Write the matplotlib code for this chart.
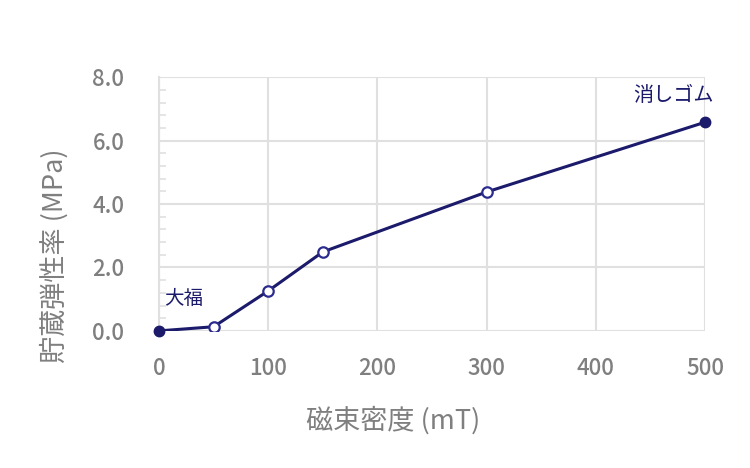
import matplotlib
matplotlib.use("Agg")
import matplotlib.pyplot as plt
from matplotlib.ticker import MultipleLocator

plt.rcParams["font.family"] = ["Noto Sans CJK JP", "DejaVu Sans"]

# data
field_mT = [0, 50, 100, 150, 300, 500]
modulus_MPa = [0.0, 0.13, 1.26, 2.49, 4.38, 6.58]
hollow = [False, True, True, True, True, False]
labels = {0: "大福", 5: "消しゴム"}

x_ticks = [0, 100, 200, 300, 400, 500]
y_ticks = [0.0, 2.0, 4.0, 6.0, 8.0]

navy = "#1b1a6b"
edge_blue = "#2c2c8e"
grey = "#7f7f7f"
grid_c = "#e0e0e0"

fig = plt.figure(figsize=(7.5, 4.68), dpi=100)
ax = fig.add_axes([0.212, 0.293, 0.728, 0.542])

ax.plot(field_mT, modulus_MPa, color=navy, lw=2.2, zorder=3)
for x, y, h in zip(field_mT, modulus_MPa, hollow):
    if h:
        ax.plot(x, y, "o", ms=7.5, mfc="white", mec=edge_blue, mew=1.6, zorder=4)
    else:
        ax.plot(x, y, "o", ms=7.5, mfc=navy, mec=navy, zorder=4, clip_on=False)

ax.annotate(labels[0], (field_mT[0], modulus_MPa[0]), xytext=(4, 16),
            textcoords="offset points", fontsize=14, color=navy, va="bottom")
ax.annotate(labels[5], (field_mT[5], modulus_MPa[5]), xytext=(6, 12),
            textcoords="offset points", fontsize=14.5, color=navy,
            ha="right", va="bottom")

ax.set_xlim(0, 500)
ax.set_ylim(0, 8)
ax.set_xticks(x_ticks)
ax.set_yticks(y_ticks)
ax.set_yticklabels([f"{v:.1f}" for v in y_ticks])
ax.yaxis.set_minor_locator(MultipleLocator(0.4))

ax.grid(True, which="major", color=grid_c, lw=1.5)
ax.set_axisbelow(True)
for s in ax.spines.values():
    s.set_visible(False)
ax.spines["left"].set_visible(True)
ax.spines["left"].set_color(grid_c)
ax.spines["left"].set_linewidth(1.5)

ax.tick_params(axis="both", which="major", length=0, labelsize=16,
               labelcolor=grey)
ax.tick_params(axis="x", which="major", pad=19)
ax.tick_params(axis="y", which="major", pad=25)
ax.tick_params(axis="y", which="minor", direction="in", length=5,
               color=grid_c, width=1.2)
for t in ax.get_xticklabels() + ax.get_yticklabels():
    t.set_fontweight("medium")

fig.text(393 / 750, 1 - 420 / 468, "磁束密度 (mT)", fontsize=19.5, color=grey,
         ha="center", va="center")
fig.text(55 / 750, 1 - 256 / 468, "貯蔵弾性率 (MPa)", fontsize=19.5, color=grey,
         ha="center", va="center", rotation=90)

fig.savefig("out.png", dpi=100)
